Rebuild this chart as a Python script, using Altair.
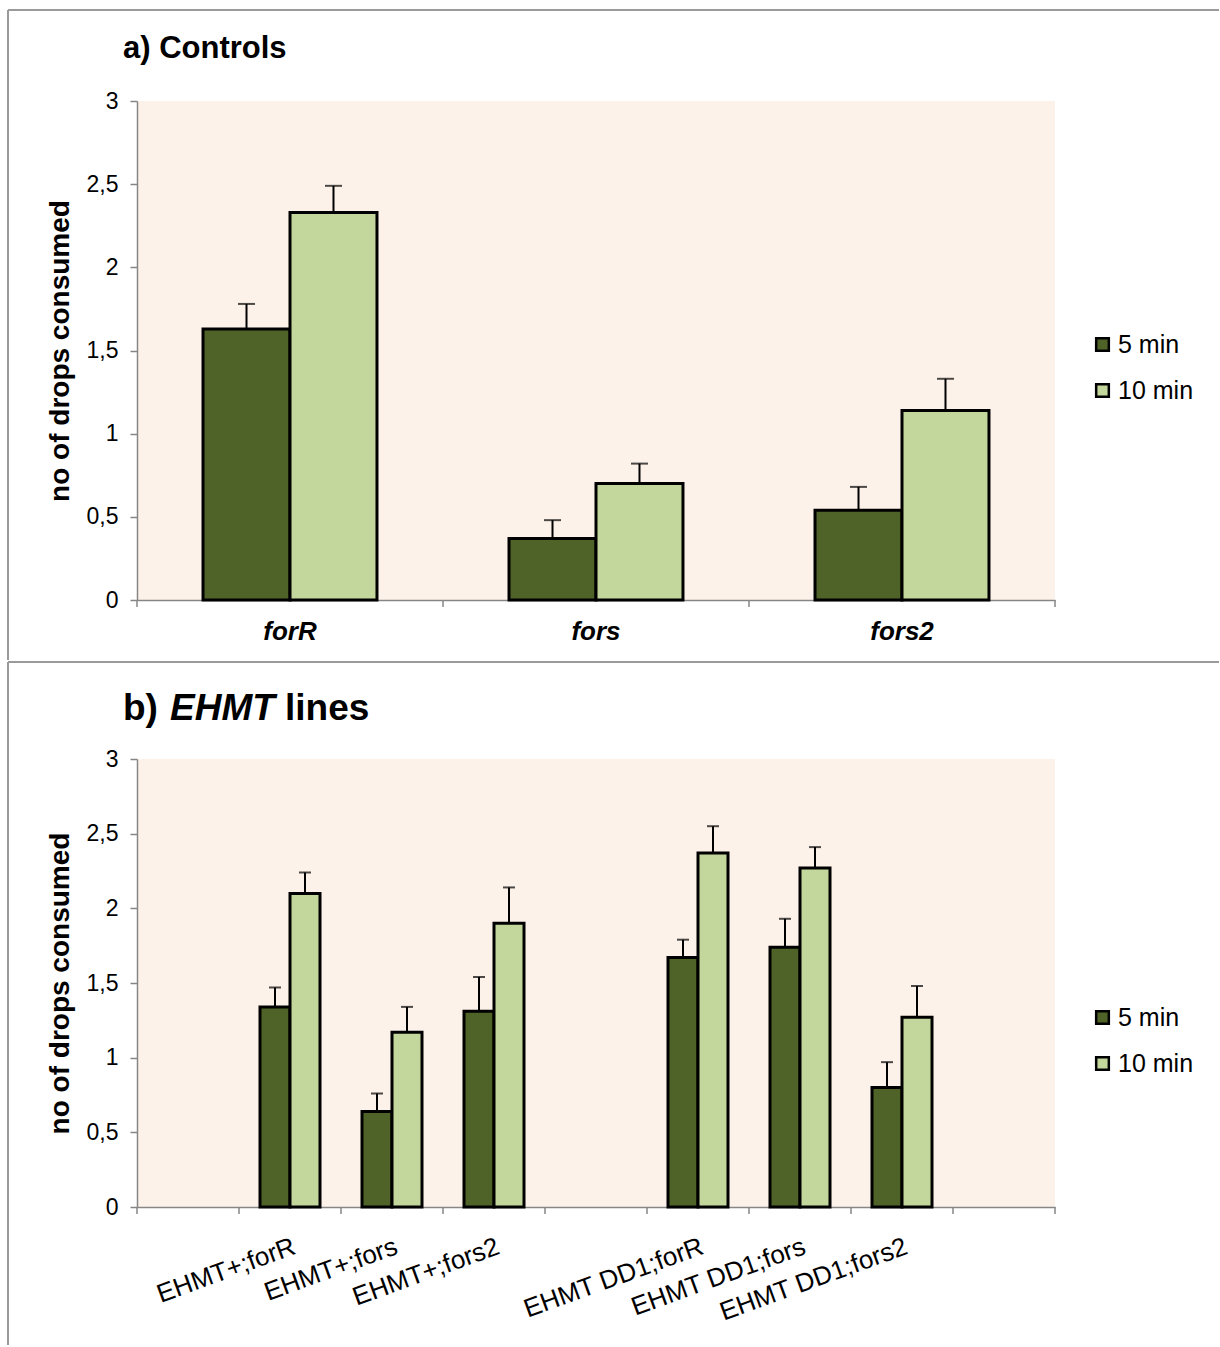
import altair as alt
import pandas as pd

FONT = "Liberation Sans"
BG = "#FDF2E9"
FRAME = "#9A9A9A"

series = ["5 min", "10 min"]
colors = ["#4F6228", "#C3D69B"]
y_ticks = [0, 0.5, 1, 1.5, 2, 2.5, 3]

# Panel a) Controls
cats_a = ["forR", "fors", "fors2"]
mean5_a = [1.63, 0.37, 0.54]
err5_a = [0.15, 0.11, 0.14]
mean10_a = [2.33, 0.70, 1.14]
err10_a = [0.16, 0.12, 0.19]

# Panel b) EHMT lines (blank slots are empty category positions)
slots_b = [" ", "EHMT+;forR", "EHMT+;fors", "EHMT+;fors2", "  ",
           "EHMT DD1;forR", "EHMT DD1;fors", "EHMT DD1;fors2", "   "]
cats_b = ["EHMT+;forR", "EHMT+;fors", "EHMT+;fors2",
          "EHMT DD1;forR", "EHMT DD1;fors", "EHMT DD1;fors2"]
mean5_b = [1.34, 0.64, 1.31, 1.67, 1.74, 0.80]
err5_b = [0.13, 0.12, 0.23, 0.12, 0.19, 0.17]
mean10_b = [2.10, 1.17, 1.90, 2.37, 2.27, 1.27]
err10_b = [0.14, 0.17, 0.24, 0.18, 0.14, 0.21]


def make_df(cats, m5, e5, m10, e10):
    rows = []
    for c, a, ea, b, eb in zip(cats, m5, e5, m10, e10):
        rows.append({"cat": c, "series": "5 min", "mean": a, "upper": a + ea})
        rows.append({"cat": c, "series": "10 min", "mean": b, "upper": b + eb})
    return pd.DataFrame(rows)


one = pd.DataFrame({"k": [0]})
YTITLE = "no of drops consumed"


def panel(df, domain, h, xaxis, xoff_pad, cap, legend_y, title_parts, frame):
    xsc = alt.Scale(domain=domain, paddingInner=0, paddingOuter=0)
    xo = alt.XOffset("series:N", sort=series,
                     scale=alt.Scale(domain=series, paddingOuter=xoff_pad, paddingInner=0))
    ysc = alt.Scale(domain=[0, 3], nice=False)

    err = alt.Chart(df).mark_rule(color="black", strokeWidth=2).encode(
        x=alt.X("cat:N", scale=xsc, title=None),
        xOffset=xo,
        y=alt.Y("mean:Q", scale=ysc, title=YTITLE),
        y2="upper:Q",
    )
    bars = alt.Chart(df).mark_bar(stroke="black", strokeWidth=3, strokeJoin="miter").encode(
        x=alt.X("cat:N", scale=xsc, title=None, axis=xaxis),
        xOffset=xo,
        y=alt.Y("mean:Q", scale=ysc, title=YTITLE,
                axis=alt.Axis(values=y_ticks, grid=False,
                              labelExpr="replace(toString(datum.value), '.', ',')",
                              labelFont=FONT, labelFontSize=23, labelColor="black",
                              labelPadding=12, tickSize=7, tickColor="#868686",
                              domainColor="#868686", domainWidth=1.5, tickWidth=1.5,
                              titleFont=FONT, titleFontSize=28, titleFontWeight="bold",
                              titleColor="black", titlePadding=12)),
        color=alt.Color("series:N", sort=series,
                        scale=alt.Scale(domain=series, range=colors),
                        legend=alt.Legend(title=None, orient="none", legendX=953,
                                          legendY=legend_y, symbolType="square",
                                          symbolSize=160, symbolStrokeColor="black",
                                          symbolStrokeWidth=2.5, labelFont=FONT,
                                          labelFontSize=25, labelColor="black",
                                          labelOffset=3, rowPadding=20, padding=0)),
    )
    caps = alt.Chart(df).mark_tick(color="black", thickness=2, size=cap,
                                   orient="horizontal").encode(
        x=alt.X("cat:N", scale=xsc, title=None),
        xOffset=xo,
        y=alt.Y("upper:Q", scale=ysc, title=YTITLE),
    )
    tick_df = pd.DataFrame({"cat": domain})
    xticks = alt.Chart(tick_df).mark_rule(color="#868686", strokeWidth=1.5).encode(
        x=alt.X("cat:N", scale=xsc, title=None, bandPosition=0),
        y=alt.value(h), y2=alt.value(h + 7),
    )
    end_tick = alt.Chart(pd.DataFrame({"cat": [domain[-1]]})).mark_rule(
        color="#868686", strokeWidth=1.5).encode(
        x=alt.X("cat:N", scale=xsc, title=None, bandPosition=1),
        y=alt.value(h), y2=alt.value(h + 7),
    )
    layers = [err, bars, caps, xticks, end_tick]
    for text, xpos, ypos, size, style in title_parts:
        layers.append(alt.Chart(one).mark_text(
            text=text, font=FONT, fontSize=size, fontWeight="bold", fontStyle=style,
            align="left", baseline="alphabetic", color="black").encode(
            x=alt.value(xpos), y=alt.value(ypos)))
    for (x1, x2, y1, y2) in frame:
        enc = {"x": alt.value(x1), "y": alt.value(y1)}
        if x2 is not None:
            enc["x2"] = alt.value(x2)
        if y2 is not None:
            enc["y2"] = alt.value(y2)
        layers.append(alt.Chart(one).mark_rule(color=FRAME, strokeWidth=2).encode(**enc))
    return alt.layer(*layers).properties(width=918, height=h)


df_a = make_df(cats_a, mean5_a, err5_a, mean10_a, err10_a)
df_b = make_df(cats_b, mean5_b, err5_b, mean10_b, err10_b)

xaxis_a = alt.Axis(ticks=False, domainColor="#868686", domainWidth=1.5,
                   labelFont=FONT, labelFontSize=26, labelFontWeight="bold",
                   labelFontStyle="italic", labelColor="black", labelPadding=18,
                   labelAngle=0, labelAlign="center", labelBaseline="top")
xaxis_b = alt.Axis(ticks=False, domainColor="#868686", domainWidth=1.5,
                   labelFont=FONT, labelFontSize=26, labelColor="black",
                   labelPadding=26, labelAngle=340, labelAlign="right",
                   labelBaseline="top", labelOverlap=False, labelLimit=400)

panel_a = panel(
    df_a, cats_a, 499, xaxis_a, 0.759, 17, 231,
    [("a) Controls", -14, -43, 31, "normal")],
    [(-129, 1082, -91, None), (-129, None, -91, 559)],
)
panel_b = panel(
    df_b, slots_b, 448, xaxis_b, 0.7, 12, 246,
    [("b)", -14, -39, 37, "normal"), ("EHMT", 33, -39, 37, "italic"),
     ("lines", 148, -39, 37, "normal")],
    [(-129, 1082, -97, None), (-129, None, -97, 586)],
)

chart = alt.vconcat(panel_a, panel_b, spacing=0).resolve_scale(
    x="independent", y="independent", color="independent", xOffset="independent"
).properties(
    padding={"left": 7, "top": 9, "right": 0, "bottom": 0},
    background="white",
).configure_view(fill=BG, stroke=None)

chart.save("out.html", embed_options={"renderer": "svg", "actions": False})
